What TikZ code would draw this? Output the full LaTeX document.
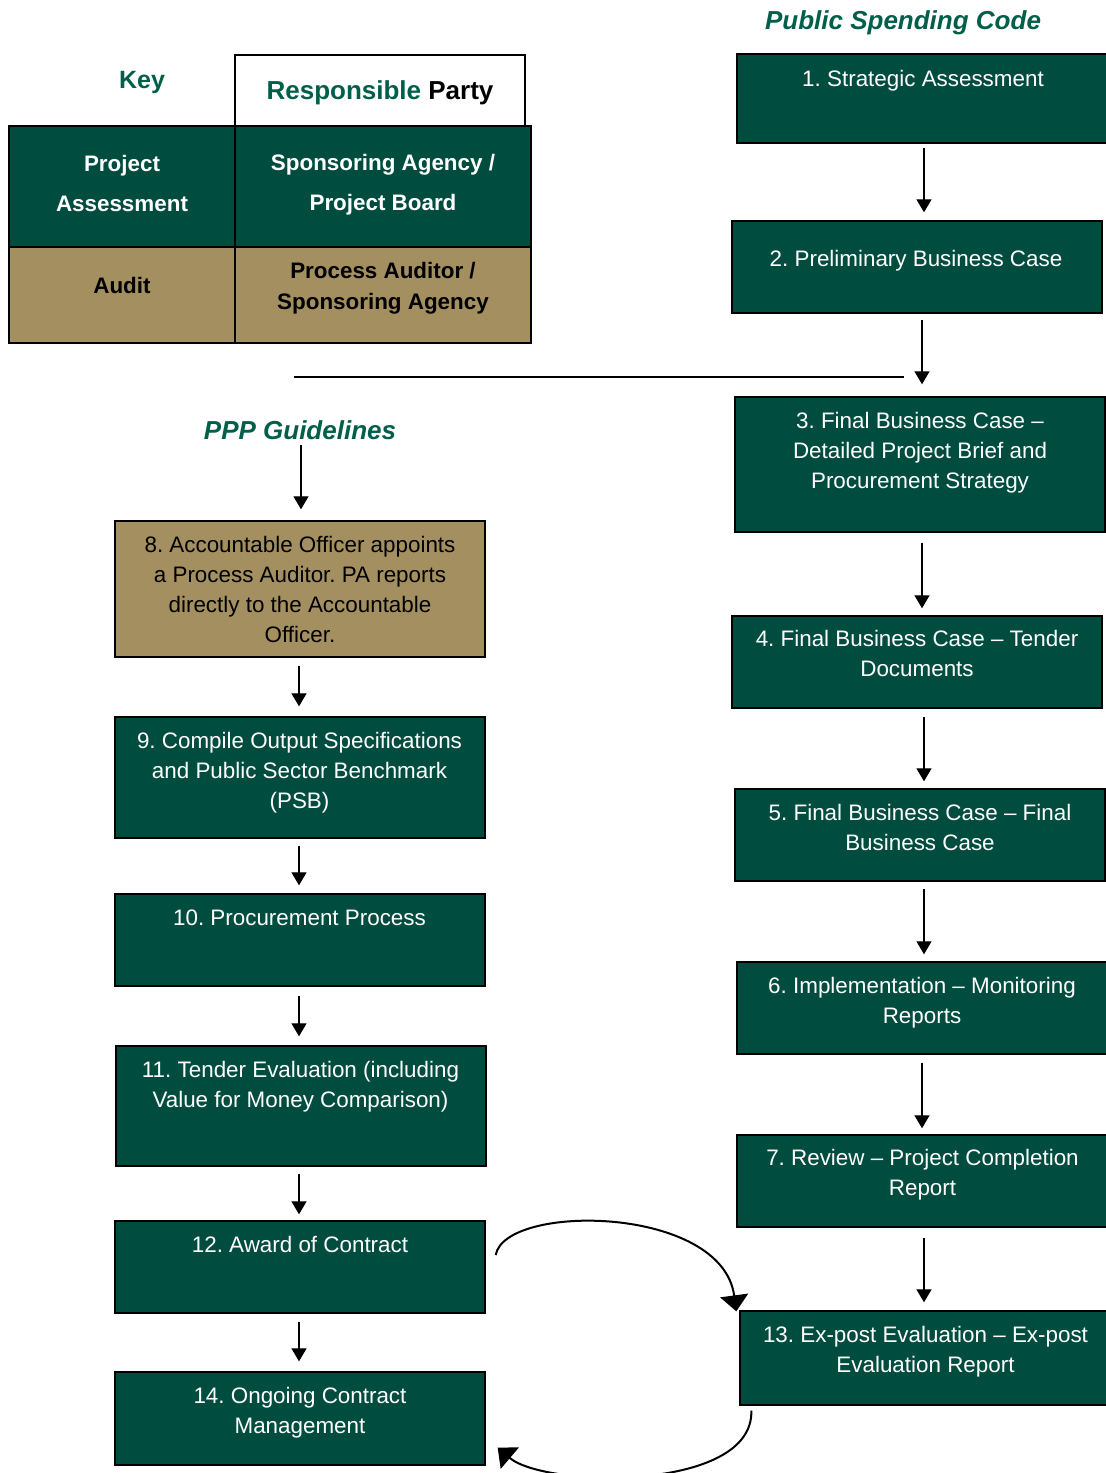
\documentclass[tikz,border=0pt]{standalone}
\usepackage{fontspec}
\setmainfont{Liberation Sans}
\usetikzlibrary{arrows.meta,fit,calc}
\definecolor{boxgreen}{RGB}{0,77,64}
\definecolor{boxtan}{RGB}{163,143,96}
\definecolor{titlegreen}{RGB}{0,95,74}
\frenchspacing
\begin{document}
\begin{tikzpicture}[x=0.5pt,y=-0.5pt,
 gbox/.style={draw=black, line width=0.7pt, fill=boxgreen, inner sep=0pt},
 tbox/.style={draw=black, line width=0.7pt, fill=boxtan, inner sep=0pt},
 wbox/.style={draw=black, line width=0.7pt, fill=white, inner sep=0pt},
 wtxt/.style={text=white, align=center, inner sep=0pt, anchor=north, font=\fontsize{11.2}{15}\selectfont},
 btxt/.style={wtxt, text=black},
 keytxt/.style={align=center, inner sep=0pt, font=\bfseries\fontsize{11.2}{20}\selectfont},
 heading/.style={text=titlegreen, inner sep=0pt, font=\bfseries\itshape\fontsize{13}{15}\selectfont},
 arr/.style={-{Triangle[width=7.5pt,length=6.5pt]}, line width=0.65pt},
 carr/.style={-{Triangle[width=14pt,length=8pt]}, line width=1pt},
]
\useasboundingbox (0,0) rectangle (1106,1473);

% ---------- Key ----------
\node[text=titlegreen, inner sep=0pt, font=\bfseries\fontsize{12.5}{15}\selectfont] (keyt) at (142,82) {Key};
\node[wbox, fit={(235,55)(525,126)}] (kresp) {};
\node[inner sep=0pt, font=\bfseries\fontsize{13}{15}\selectfont] (krespt) at (380,93) {\textcolor{titlegreen}{Responsible} Party};
\node[gbox, fit={(9,126)(235,247)}] (kpa) {};
\node[gbox, fit={(235,126)(531,247)}] (ksa) {};
\node[tbox, fit={(9,247)(235,343)}] (kau) {};
\node[tbox, fit={(235,247)(531,343)}] (kpr) {};
\node[keytxt, text=white] (kpat) at (122,183) {Project\\Assessment};
\node[keytxt, text=white] (ksat) at (383,185) {Sponsoring Agency /\\Project Board};
\node[keytxt] (kaut) at (122,285) {Audit};
\node[keytxt, font=\bfseries\fontsize{11.2}{15.5}\selectfont] (kprt) at (383,288) {Process Auditor /\\Sponsoring Agency};

% ---------- Headings ----------
\node[heading] (psc) at (903,23) {Public Spending Code};
\node[heading] (ppp) at (300,430) {PPP Guidelines};

% ---------- Right column ----------
\node[gbox, fit={(737,54)(1108,143)}] (b1) {};
\node[wtxt] (t1) at (923,70) {1. Strategic Assessment};
\node[gbox, fit={(732,221)(1102,313)}] (b2) {};
\node[wtxt] (t2) at (916,250) {2. Preliminary Business Case};
\node[gbox, fit={(735,397)(1105,532)}] (b3) {};
\node[wtxt] (t3) at (920,412) {3. Final Business Case --\\Detailed Project Brief and\\Procurement Strategy};
\node[gbox, fit={(732,616)(1102,708)}] (b4) {};
\node[wtxt] (t4) at (917,630) {4. Final Business Case -- Tender\\Documents};
\node[gbox, fit={(735,789)(1105,881)}] (b5) {};
\node[wtxt] (t5) at (920,804) {5. Final Business Case -- Final\\Business Case};
\node[gbox, fit={(737,962)(1108,1054)}] (b6) {};
\node[wtxt] (t6) at (922,977) {6. Implementation -- Monitoring\\Reports};
\node[gbox, fit={(737,1135)(1108,1227)}] (b7) {};
\node[wtxt] (t7) at (922.5,1149) {7. Review -- Project Completion\\Report};
\node[gbox, fit={(740,1311)(1108,1405)}] (b13) {};
\node[wtxt] (t13) at (925.5,1326) {13. Ex-post Evaluation -- Ex-post\\Evaluation Report};

% ---------- Left column ----------
\node[tbox, fit={(115,521)(485,657)}] (b8) {};
\node[btxt] (t8) at (300,536) {8. Accountable Officer appoints\\a Process Auditor. PA reports\\directly to the Accountable\\Officer.};
\node[gbox, fit={(115,717)(485,838)}] (b9) {};
\node[wtxt] (t9) at (299.5,732) {9. Compile Output Specifications\\and Public Sector Benchmark\\(PSB)};
\node[gbox, fit={(115,894)(485,986)}] (b10) {};
\node[wtxt] (t10) at (299.5,909) {10. Procurement Process};
\node[gbox, fit={(116,1046)(486,1166)}] (b11) {};
\node[wtxt] (t11) at (300.5,1061) {11. Tender Evaluation (including\\Value for Money Comparison)};
\node[gbox, fit={(115,1221)(485,1313)}] (b12) {};
\node[wtxt] (t12) at (300,1236) {12. Award of Contract};
\node[gbox, fit={(115,1372)(485,1465)}] (b14) {};
\node[wtxt] (t14) at (300,1387) {14. Ongoing Contract\\Management};

% ---------- Straight arrows ----------
\draw[arr] ($(b1.south)+(1.5,4)$) -- ($(b2.north -| b1.south)+(1.5,-8)$);
\draw[arr] ($(b2.south)+(5,6)$) -- ($(b3.north -| b2.south)+(5,-12)$);
\draw[arr] ($(b3.south)+(2,10)$) -- ($(b4.north -| b3.south)+(2,-7)$);
\draw[arr] ($(b4.south)+(7,8)$) -- ($(b5.north -| b4.south)+(7,-7)$);
\draw[arr] ($(b5.south)+(4,7)$) -- ($(b6.north -| b5.south)+(4,-7)$);
\draw[arr] ($(b6.south)+(-0.5,8)$) -- ($(b7.north -| b6.south)+(-0.5,-6)$);
\draw[arr] ($(b7.south)+(1.5,10)$) -- ($(b13.north -| b7.south)+(1.5,-8)$);

\coordinate (hl1) at (294,377);
\coordinate (hl2) at (904,377);
\draw[line width=0.65pt] (hl1) -- (hl2);

\draw[arr] ($(ppp.south)+(1,5)$) -- ($(b8.north -| ppp.south)+(1,-11)$);
\draw[arr] ($(b8.south)+(-1,8)$) -- ($(b9.north -| b8.south)+(-1,-10)$);
\draw[arr] ($(b9.south)+(-1,7)$) -- ($(b10.north -| b9.south)+(-1,-8)$);
\draw[arr] ($(b10.south)+(-1,9)$) -- ($(b11.north -| b10.south)+(-1,-9)$);
\draw[arr] ($(b11.south)+(-2,7)$) -- ($(b12.north -| b11.south)+(-2,-6)$);
\draw[arr] ($(b12.south)+(-1,8)$) -- ($(b14.north -| b12.south)+(-1,-10)$);

% ---------- Curved arrows ----------
\draw[carr] ($(b12.east)+(10,-12)$) .. controls (505,1203) and (722,1205) .. ($(b13.north west)+(-3,1)$);
\draw[carr] ($(b13.south west)+(12,5)$) .. controls (754,1492) and (545,1488) .. ($(b14.south east)+(12,-18)$);
\end{tikzpicture}
\end{document}
